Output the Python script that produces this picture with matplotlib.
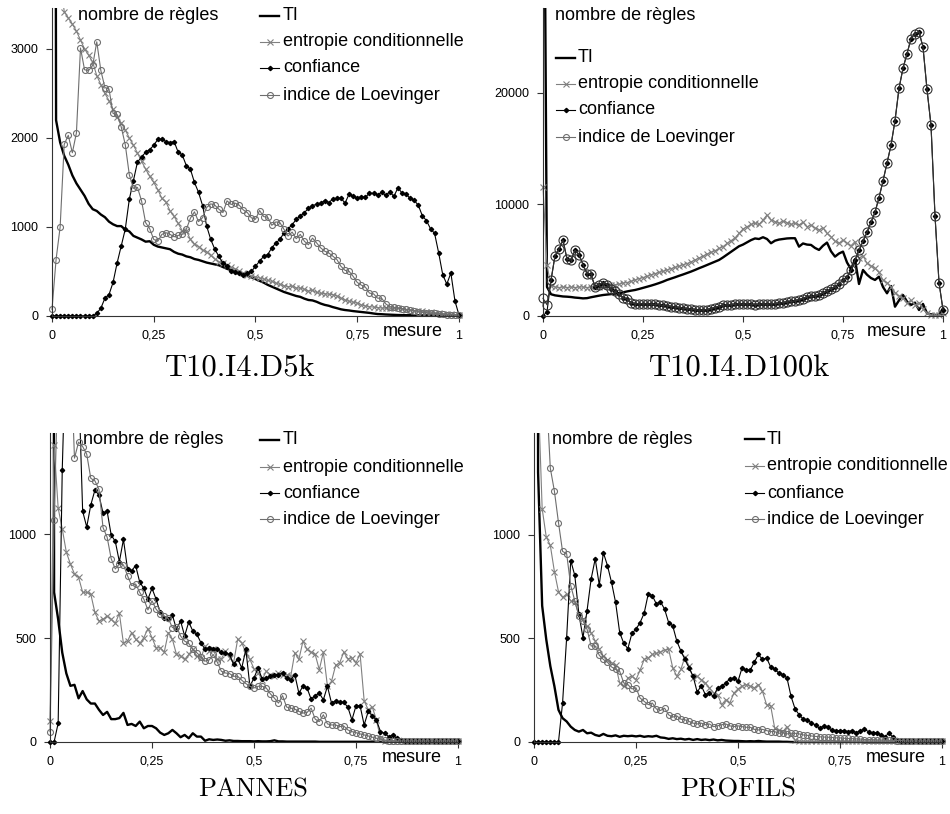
import numpy as np
import matplotlib
matplotlib.use("Agg")
import matplotlib.pyplot as plt
from matplotlib.lines import Line2D
from matplotlib.patches import Rectangle

plt.rcParams['font.family'] = ['Liberation Sans', 'DejaVu Sans']

# ---------------- data (x = 0, 0.01, ..., 1) ----------------
x_values = [i / 100 for i in range(101)]
x_ticks = [0, 0.25, 0.5, 0.75, 1]
x_ticklabels = ["0", "0,25", "0,5", "0,75", "1"]
series_names = ["TI", "entropie conditionnelle", "confiance", "indice de Loevinger"]
titles = ["T10.I4.D5k", "T10.I4.D100k", "PANNES", "PROFILS"]

d5k_ti = [30000, 2200, 1950, 1800, 1700, 1580, 1490, 1420, 1350, 1260,
          1200, 1180, 1140, 1110, 1060, 1030, 1010, 1010, 970, 950,
          900, 880, 860, 835, 840, 800, 780, 770, 760, 750,
          720, 700, 690, 670, 660, 640, 630, 615, 600, 590,
          580, 570, 550, 530, 515, 500, 480, 465, 450, 435,
          415, 395, 375, 350, 330, 310, 290, 270, 255, 240,
          225, 215, 195, 180, 175, 160, 140, 125, 115, 100,
          88, 75, 67, 62, 55, 50, 45, 40, 35, 28,
          22, 20, 17, 15, 13, 11, 10, 9, 9, 8,
          8, 7, 7, 6, 6, 5, 5, 5, 4, 4, 4]
d5k_ent = [9000, 6000, 3800, 3420, 3350, 3280, 3200, 3100, 3000, 2930,
           2850, 2700, 2600, 2500, 2420, 2320, 2230, 2170, 2090, 2000,
           1920, 1830, 1740, 1650, 1570, 1500, 1420, 1320, 1280, 1180,
           1120, 1040, 960, 960, 860, 810, 780, 740, 720, 680,
           640, 610, 590, 570, 545, 530, 505, 480, 465, 450,
           440, 425, 415, 400, 390, 370, 355, 340, 330, 335,
           315, 313, 300, 280, 290, 265, 255, 250, 245, 240,
           225, 200, 180, 165, 155, 145, 125, 112, 105, 100,
           95, 90, 87, 88, 85, 87, 80, 72, 68, 60,
           56, 52, 50, 42, 36, 30, 26, 22, 18, 14, 10]
d5k_conf = [0, 0, 0, 0, 0, 0, 0, 0, 0, 0,
            0, 30, 87, 200, 240, 377, 596, 785, 975, 1313,
            1520, 1730, 1785, 1840, 1870, 1917, 1985, 1985, 1960, 1947,
            1960, 1840, 1810, 1690, 1650, 1500, 1390, 1240, 1010, 860,
            750, 670, 595, 560, 500, 490, 483, 465, 483, 500,
            560, 615, 670, 690, 765, 820, 860, 935, 980, 1025,
            1085, 1125, 1160, 1210, 1240, 1255, 1268, 1295, 1275, 1313,
            1320, 1325, 1268, 1370, 1343, 1328, 1340, 1333, 1381, 1377,
            1362, 1389, 1355, 1396, 1343, 1441, 1381, 1370, 1320, 1298,
            1245, 1125, 1072, 980, 928, 710, 465, 358, 483, 170, 10]
d5k_loev = [75, 634, 1000, 1928, 2030, 1834, 2057, 3011, 2766, 2758,
            2815, 3080, 2758, 2566, 2550, 2275, 2264, 2125, 1925, 1585,
            1434, 1445, 1294, 1049, 981, 860, 840, 917, 936, 917,
            890, 905, 917, 973, 1098, 1170, 1060, 1105, 1219, 1260,
            1245, 1200, 1162, 1294, 1253, 1268, 1245, 1192, 1162, 1102,
            1087, 1185, 1117, 1109, 1019, 1057, 1049, 973, 898, 943,
            868, 917, 840, 800, 875, 822, 766, 728, 709, 672,
            634, 558, 513, 502, 445, 377, 347, 325, 257, 249,
            200, 200, 136, 106, 98, 91, 83, 75, 68, 60,
            49, 38, 38, 30, 30, 26, 23, 15, 15, 11, 8]

d100k_ti = [60000, 2600, 1950, 1850, 1800, 1750, 1730, 1700, 1650, 1620,
            1580, 1600, 1680, 1750, 1820, 1880, 1920, 1960, 2000, 2050,
            2120, 2200, 2270, 2330, 2420, 2520, 2620, 2720, 2830, 2950,
            3080, 3230, 3350, 3470, 3600, 3720, 3850, 3980, 4125, 4280,
            4420, 4570, 4720, 4870, 5020, 5250, 5500, 5750, 6000, 6250,
            6400, 6600, 6800, 6950, 6900, 7060, 6900, 6520, 6750, 6850,
            6900, 6950, 6970, 6970, 6215, 6500, 6400, 6370, 6100, 5920,
            6300, 6580, 5800, 5320, 5600, 5770, 4800, 4190, 5080, 2870,
            4125, 3700, 3400, 3230, 3525, 2600, 2035, 2690, 834, 1400,
            1880, 1300, 987, 1200, 538, 1080, 240, 150, 100, 90, 690]
d100k_ent = [11600, 4570, 2700, 2600, 2550, 2600, 2550, 2600, 2550, 2600,
             2600, 2550, 2600, 2650, 2600, 2650, 2700, 2750, 2800, 2850,
             2950, 3000, 3100, 3230, 3350, 3450, 3550, 3700, 3800, 3900,
             4000, 4125, 4250, 4350, 4450, 4600, 4700, 4850, 5020, 5200,
             5350, 5550, 5700, 5850, 6050, 6215, 6500, 6750, 7000, 7400,
             7800, 8000, 8200, 8310, 8200, 8600, 9060, 8600, 8460, 8300,
             8500, 8370, 8200, 8300, 8160, 8400, 8000, 8160, 7900, 7710,
             7900, 7410, 7100, 6700, 6520, 6800, 6520, 6300, 6670, 5170,
             5400, 4720, 4500, 4280, 3900, 3230, 3000, 2630, 2100, 1800,
             1580, 1130, 1400, 1000, 1200, 600, 240, 90, 60, 60, 300]
d100k_conf = [0, 400, 3200, 5400, 6000, 6800, 5100, 5000, 5900, 5500,
              4600, 3800, 3750, 2600, 2800, 3000, 2800, 2400, 2200, 1950,
              1650, 1500, 1200, 1080, 1100, 1080, 1100, 1050, 1050, 1000,
              950, 900, 850, 800, 750, 700, 650, 620, 560, 520,
              550, 560, 650, 750, 850, 950, 1000, 1000, 1050, 1100,
              1050, 1100, 1050, 1000, 1050, 1100, 1050, 1100, 1100, 1150,
              1200, 1250, 1300, 1350, 1450, 1550, 1700, 1750, 1800, 1900,
              2050, 2200, 2400, 2600, 2900, 3200, 3500, 4100, 5000, 5900,
              6700, 7500, 8400, 9300, 10600, 12100, 13700, 15300, 17500, 20400,
              22200, 23500, 24850, 25300, 25450, 24100, 20300, 17100, 9000, 3000, 550]
d100k_loev = [1590, 1000, 3200, 5400, 6000, 6800, 5100, 5000, 5900, 5500,
              4600, 3800, 3750, 2600, 2800, 3000, 2800, 2400, 2200, 1950,
              1650, 1500, 1200, 1080, 1100, 1080, 1100, 1050, 1050, 1000,
              950, 900, 850, 800, 750, 700, 650, 620, 560, 520,
              550, 560, 650, 750, 850, 950, 1000, 1000, 1050, 1100,
              1050, 1100, 1050, 1000, 1050, 1100, 1050, 1100, 1100, 1150,
              1200, 1250, 1300, 1350, 1450, 1550, 1700, 1750, 1800, 1900,
              2050, 2200, 2400, 2600, 2900, 3200, 3500, 4100, 5000, 5900,
              6700, 7500, 8400, 9300, 10600, 12100, 13700, 15300, 17500, 20400,
              22200, 23500, 24850, 25300, 25450, 24100, 20300, 17100, 9000, 3000, 550]

pannes_ti = [20000, 720, 590, 430, 330, 270, 275, 210, 245, 205,
             185, 185, 155, 130, 145, 110, 110, 115, 140, 82,
             87, 77, 98, 66, 77, 77, 66, 45, 34, 42,
             58, 42, 23, 34, 18, 42, 26, 26, 6, 13,
             10, 12, 10, 6, 8, 5, 5, 4, 4, 4,
             3, 4, 3, 3, 4, 8, 3, 3, 2, 2,
             2, 2, 2, 2, 2, 2, 1, 1, 1, 1,
             1, 1, 1, 1, 1, 1, 1, 1, 1, 1,
             1, 1, 1, 1, 1, 1, 1, 1, 1, 1,
             1, 1, 1, 1, 1, 1, 1, 1, 1, 1, 1]
pannes_ent = [100, 1430, 1125, 1025, 913, 856, 808, 792, 720, 720,
              711, 623, 582, 590, 606, 590, 571, 619, 474, 485,
              526, 494, 474, 502, 545, 502, 453, 453, 432, 526,
              494, 421, 413, 397, 421, 445, 413, 405, 461, 437,
              445, 397, 400, 437, 405, 381, 494, 477, 429, 397,
              352, 332, 300, 340, 324, 316, 332, 324, 324, 316,
              429, 397, 485, 445, 432, 421, 348, 432, 268, 292,
              368, 381, 432, 400, 405, 381, 424, 198, 155, 168,
              106, 18, 6, 4, 4, 4, 4, 4, 4, 4,
              4, 4, 4, 4, 4, 4, 4, 4, 4, 4, 4]
pannes_conf = [0, 0, 90, 1308, 2000, 2300, 2100, 1750, 1110, 1034,
               1140, 1211, 1188, 1100, 1110, 995, 965, 867, 974, 832,
               824, 848, 768, 739, 687, 739, 687, 623, 594, 590,
               610, 542, 582, 510, 577, 534, 518, 477, 445, 453,
               448, 445, 432, 429, 421, 373, 400, 356, 445, 268,
               308, 356, 303, 308, 316, 324, 324, 332, 308, 300,
               324, 235, 268, 260, 206, 223, 235, 203, 268, 187,
               198, 192, 190, 168, 106, 174, 174, 82, 147, 126,
               106, 50, 42, 26, 34, 18, 10, 5, 5, 5,
               5, 5, 5, 5, 5, 5, 5, 5, 5, 5, 5]
pannes_loev = [50, 1066, 1800, 2500, 2300, 1900, 1365, 1442, 1421, 1384,
               1268, 1256, 1215, 1031, 985, 881, 832, 856, 852, 800,
               752, 760, 719, 687, 635, 679, 639, 615, 606, 594,
               550, 555, 510, 485, 474, 445, 429, 410, 389, 394,
               421, 384, 340, 332, 329, 316, 316, 297, 281, 268,
               260, 268, 268, 260, 232, 211, 187, 223, 168, 163,
               158, 147, 139, 142, 163, 110, 98, 131, 87, 82,
               82, 74, 77, 58, 50, 45, 39, 34, 29, 23,
               18, 13, 10, 6, 5, 5, 5, 5, 5, 5,
               5, 5, 5, 5, 5, 5, 5, 5, 5, 5, 5]

profils_ti = [20000, 1300, 657, 495, 366, 269, 155, 115, 99, 74,
              58, 50, 58, 42, 45, 34, 29, 39, 30, 28,
              32, 25, 30, 28, 30, 27, 30, 25, 28, 26,
              30, 22, 20, 15, 18, 14, 16, 12, 15, 10,
              14, 10, 12, 9, 12, 8, 10, 7, 6, 5,
              5, 4, 3, 4, 3, 5, 3, 2, 2, 2,
              2, 1, 1, 0, 0, 0, 0, 0, 0, 0,
              0, 0, 0, 0, 0, 0, 0, 0, 0, 0,
              0, 0, 0, 0, 0, 0, 0, 0, 0, 0,
              0, 0, 0, 0, 0, 0, 0, 0, 0, 0, 0]
profils_ent = [2200, 1700, 1125, 989, 948, 822, 725, 697, 714, 681,
               676, 612, 592, 560, 527, 487, 447, 414, 395, 382,
               369, 285, 269, 309, 317, 301, 346, 398, 406, 422,
               427, 434, 443, 447, 358, 317, 350, 411, 366, 309,
               317, 301, 285, 261, 236, 228, 180, 204, 188, 236,
               256, 269, 277, 269, 261, 277, 244, 180, 175, 66,
               58, 50, 74, 34, 10, 3, 3, 3, 3, 3,
               3, 3, 3, 3, 3, 3, 3, 3, 3, 3,
               3, 3, 3, 3, 3, 3, 3, 3, 3, 3,
               3, 3, 3, 3, 3, 3, 3, 3, 3, 3, 3]
profils_conf = [0, 0, 0, 0, 0, 0, 0, 188, 503, 875,
                803, 617, 503, 633, 786, 883, 757, 913, 851, 770,
                673, 528, 476, 450, 524, 544, 576, 621, 714, 706,
                665, 676, 641, 576, 560, 487, 439, 398, 358, 317,
                240, 272, 228, 236, 220, 261, 269, 285, 304, 309,
                293, 358, 346, 346, 385, 422, 398, 406, 362, 350,
                333, 325, 309, 220, 159, 131, 110, 107, 91, 83,
                66, 78, 71, 58, 55, 55, 55, 50, 55, 45,
                55, 61, 50, 42, 45, 34, 26, 42, 23, 10,
                5, 5, 5, 5, 5, 5, 5, 5, 5, 5, 5]
profils_loev = [3000, 3500, 2800, 1700, 1320, 1210, 1058, 919, 908, 754,
                681, 608, 584, 544, 463, 463, 418, 398, 385, 362,
                350, 341, 285, 277, 256, 261, 212, 196, 180, 188,
                159, 152, 163, 131, 120, 126, 110, 107, 99, 91,
                87, 91, 83, 87, 74, 78, 83, 87, 78, 74,
                78, 74, 71, 71, 61, 58, 61, 55, 50, 50,
                42, 45, 39, 42, 42, 39, 34, 32, 29, 27,
                25, 24, 23, 22, 20, 20, 18, 17, 16, 15,
                14, 12, 12, 11, 10, 10, 9, 8, 8, 7,
                7, 5, 5, 5, 5, 5, 5, 5, 5, 5, 5]

panels = [
    dict(title=titles[0], data=[d5k_ti, d5k_ent, d5k_conf, d5k_loev],
         yticks=[0, 1000, 2000, 3000], ymax=3460),
    dict(title=titles[1], data=[d100k_ti, d100k_ent, d100k_conf, d100k_loev],
         yticks=[0, 10000, 20000], ymax=27600),
    dict(title=titles[2], data=[pannes_ti, pannes_ent, pannes_conf, pannes_loev],
         yticks=[0, 500, 1000], ymax=1486),
    dict(title=titles[3], data=[profils_ti, profils_ent, profils_conf, profils_loev],
         yticks=[0, 500, 1000], ymax=1490),
]

# ---------------- layout (pixels) ----------------
W, H = 950, 814
boxes = [(52, 8, 459, 316), (543, 8, 943, 316), (50, 433, 458, 742), (534, 433, 942, 742)]
legend_pos = [  # (nombre x, nombre y, sample x0, text x, row ys)
    dict(nx=78, ny=16, sx=260, tx=283, ys=[16, 42, 68, 95]),
    dict(nx=555, ny=16, sx=556, tx=578, ys=[58, 84, 110, 137]),
    dict(nx=83, ny=440, sx=260, tx=283, ys=[440, 467, 493, 519]),
    dict(nx=552, ny=439, sx=745, tx=767, ys=[439, 466, 493, 519]),
]
title_pos = [(240, 368, 22), (740, 368, 22), (253, 790, 19), (738, 790, 19)]

styles = [
    dict(color='black', lw=1.7),
    dict(color='#808080', lw=0.8, marker='x', ms=4.5, mew=0.8),
    dict(color='black', lw=0.8, marker='D', ms=2.2),
    dict(color='#6e6e6e', lw=0.8, marker='o', ms=4.3, mfc='none', mew=0.8),
]

fig = plt.figure(figsize=(W / 100, H / 100), dpi=100)


def fx(px):
    return px / W


def fy(py):
    return 1 - py / H


for k, p in enumerate(panels):
    L, T, R, B = boxes[k]
    ax = fig.add_axes([fx(L), fy(B), (R - L) / W, (B - T) / H])
    clip = Rectangle((-0.03, -0.05), 1.06, 1.05, transform=ax.transAxes)
    for j, ys in enumerate(p['data']):
        st = dict(styles[j])
        if k == 1 and j == 3:
            st['ms'] = 6.5
            st['color'] = '#333333'
        ln, = ax.plot(x_values, ys, **st)
        ln.set_clip_path(clip)
    ax.set_xlim(0, 1)
    ax.set_ylim(0, p['ymax'])
    ax.set_xticks(x_ticks)
    ax.set_xticklabels(x_ticklabels)
    ax.set_yticks(p['yticks'])
    ax.set_yticklabels([str(v) for v in p['yticks']])
    for s in ['top', 'right']:
        ax.spines[s].set_visible(False)
    for s in ['left', 'bottom']:
        ax.spines[s].set_color('#333333')
        ax.spines[s].set_linewidth(0.8)
    ax.tick_params(direction='out', length=4, width=0.8, color='#333333',
                   labelsize=9, pad=6)
    ax.patch.set_alpha(0)
    ax.annotate('mesure', xy=(0.96, 0), xycoords='axes fraction',
                xytext=(0, -15), textcoords='offset pixels',
                ha='right', va='center', fontsize=13)

    lp = legend_pos[k]
    fig.text(fx(lp['nx']), fy(lp['ny']), 'nombre de règles', ha='left',
             va='center', fontsize=13)
    for j, name in enumerate(series_names):
        yy = fy(lp['ys'][j])
        st = dict(styles[j])
        lw = st.pop('lw')
        col = st.pop('color')
        fig.add_artist(Line2D([fx(lp['sx']), fx(lp['sx'] + 19)], [yy, yy],
                              transform=fig.transFigure, color=col, lw=lw))
        if 'marker' in st:
            fig.add_artist(Line2D([fx(lp['sx'] + 9.5)], [yy],
                                  transform=fig.transFigure, color=col,
                                  linestyle='none', **st))
        fig.text(fx(lp['tx']), yy, name, ha='left', va='center', fontsize=13)

    tx, ty, tsz = title_pos[k]
    fig.text(fx(tx), fy(ty), p['title'], ha='center', va='center',
             fontsize=tsz, family='cmr10')

fig.savefig('out.png', dpi=100)
